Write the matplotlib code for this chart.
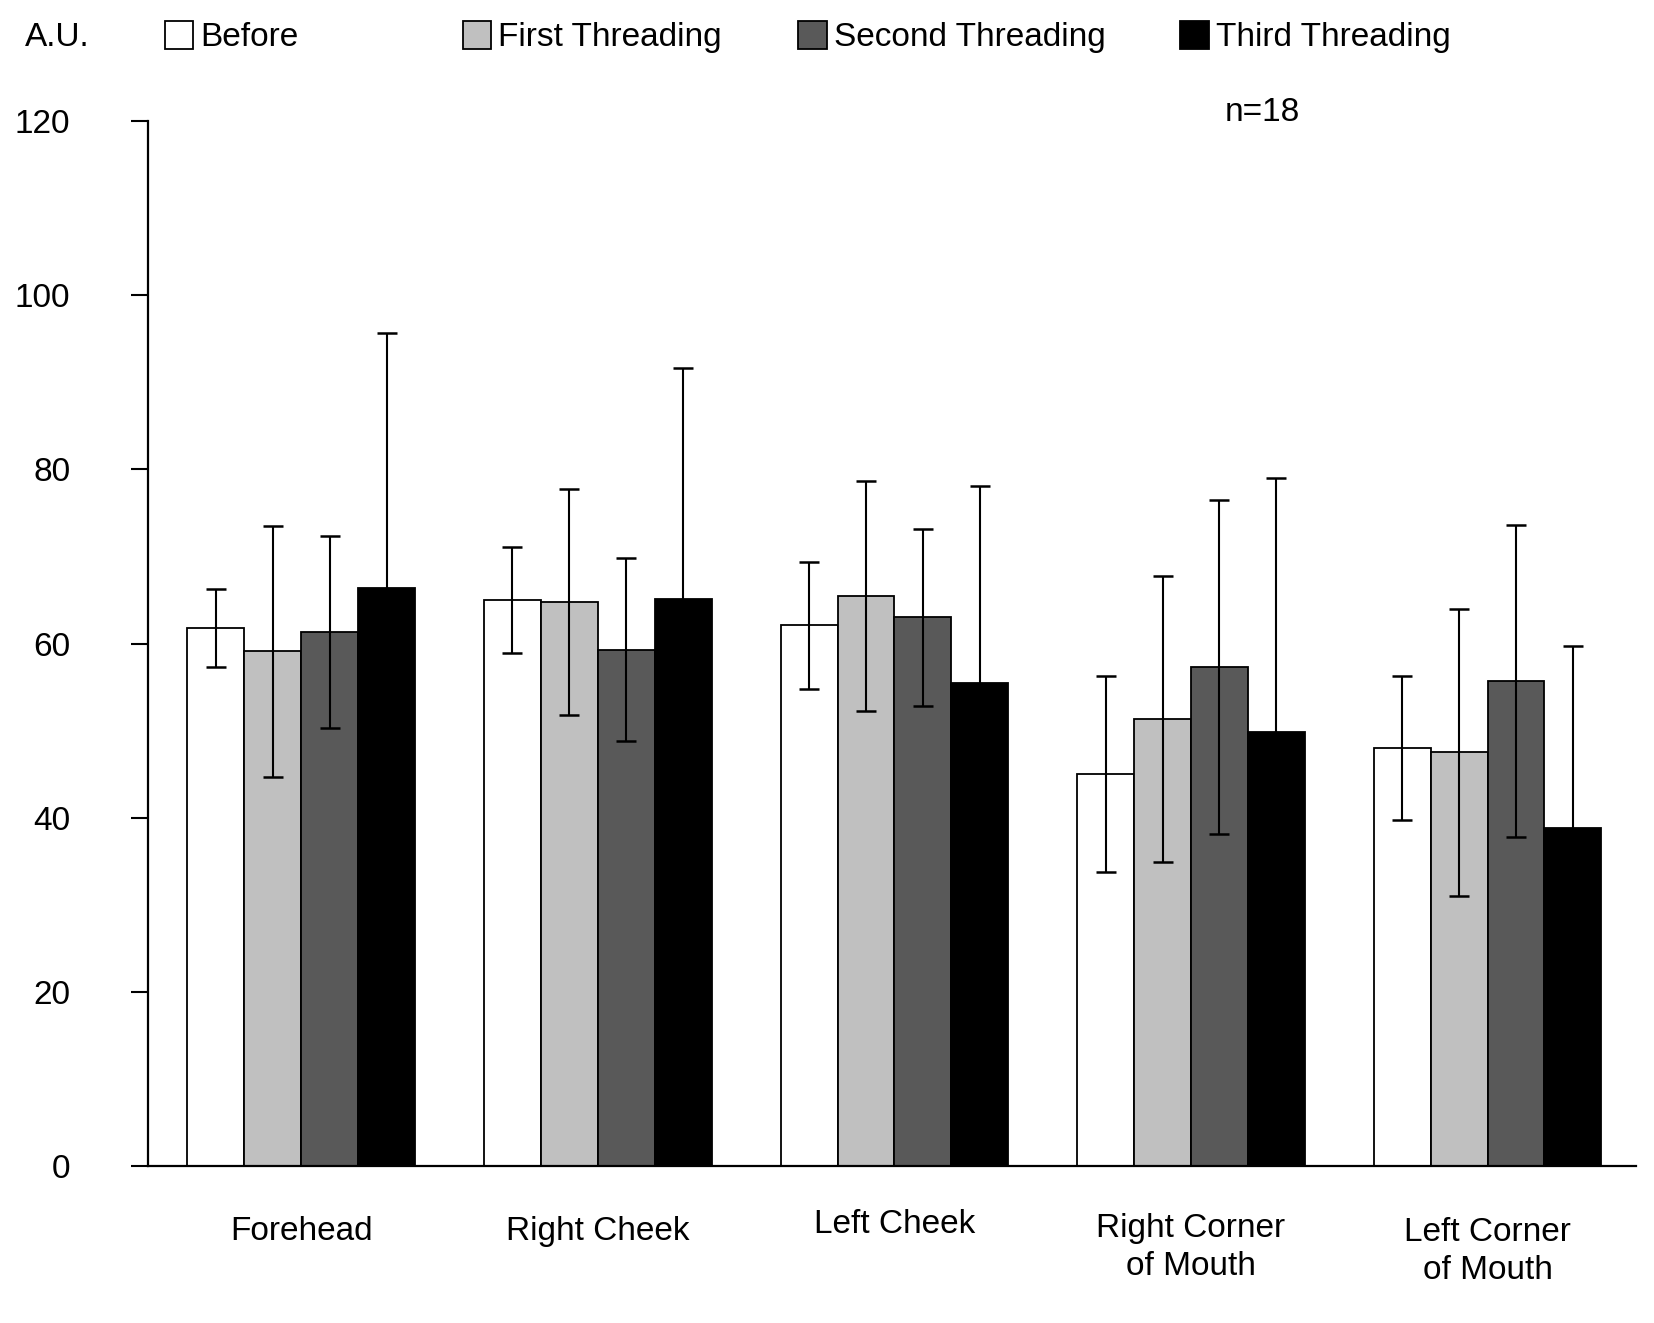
import numpy as np
import matplotlib
matplotlib.use("Agg")
from matplotlib import pyplot as plt
from matplotlib import transforms

regions = ["Forehead", "Right Cheek", "Left Cheek", "Right Corner\nof Mouth", "Left Corner\nof Mouth"]
series = ["Before", "First Threading", "Second Threading", "Third Threading"]

before = [61.8, 65.0, 62.1, 45.0, 48.0]
first = [59.1, 64.8, 65.5, 51.3, 47.5]
second = [61.3, 59.3, 63.0, 57.3, 55.7]
third = [66.4, 65.1, 55.5, 49.8, 38.8]

before_err = [4.5, 6.1, 7.3, 11.3, 8.3]
first_err = [14.4, 13.0, 13.2, 16.4, 16.5]
second_err = [11.0, 10.5, 10.2, 19.2, 17.9]
third_err = [29.3, 26.5, 22.6, 29.2, 20.9]

colors = ["white", "#c0c0c0", "#595959", "black"]

plt.rcParams["font.family"] = ["Liberation Sans", "DejaVu Sans"]
plt.rcParams["font.size"] = 24

fig = plt.figure(figsize=(16.54, 13.23), dpi=100)
ax = fig.add_axes([0.0895, 0.1189, 0.8995, 0.7894])

x = np.arange(len(regions))
w = 0.192
values = [before, first, second, third]
errors = [before_err, first_err, second_err, third_err]
handles = []
for i, (vals, errs) in enumerate(zip(values, errors)):
    pos = x + (i - 1.5) * w
    b = ax.bar(pos, vals, w, color=colors[i], edgecolor="black", linewidth=1.3, label=series[i], zorder=2)
    ax.errorbar(pos, vals, yerr=errs, fmt="none", ecolor="black", elinewidth=1.5,
                capsize=7, capthick=1.8, zorder=3)
    handles.append(b)

ax.set_xlim(-0.517, 4.5)
ax.set_ylim(0, 120)
ax.set_yticks([0, 20, 40, 60, 80, 100, 120])
ax.spines["top"].set_visible(False)
ax.spines["right"].set_visible(False)
ax.spines["left"].set_linewidth(1.6)
ax.spines["bottom"].set_linewidth(1.6)
ax.tick_params(axis="y", direction="out", length=12, width=1.5, pad=44)
ax.set_xticks(x)
ax.set_xticklabels(regions, linespacing=1.3)
ax.tick_params(axis="x", length=0, pad=36)

# the category labels sit at slightly different heights in the original
shifts = [0, 0, 5, 2, -1]
for lab, s in zip(ax.get_xticklabels(), shifts):
    lab.set_transform(lab.get_transform() + transforms.ScaledTranslation(0, s / 72, fig.dpi_scale_trans))

# legend entries placed separately like the original
leg_x = [0.0995, 0.2797, 0.4827, 0.7137]
for h, lx in zip(handles, leg_x):
    fig.legend(handles=[h], loc="center left", bbox_to_anchor=(lx, 0.972), frameon=False,
               handlelength=0.85, handleheight=0.9, handletextpad=0.22, borderpad=0,
               borderaxespad=0, fontsize=24)

fig.text(0.015, 0.972, "A.U.", ha="left", va="center", fontsize=24)
fig.text(0.7634, 0.9146, "n=18", ha="center", va="center", fontsize=24)

fig.savefig("out.png", dpi=100)
